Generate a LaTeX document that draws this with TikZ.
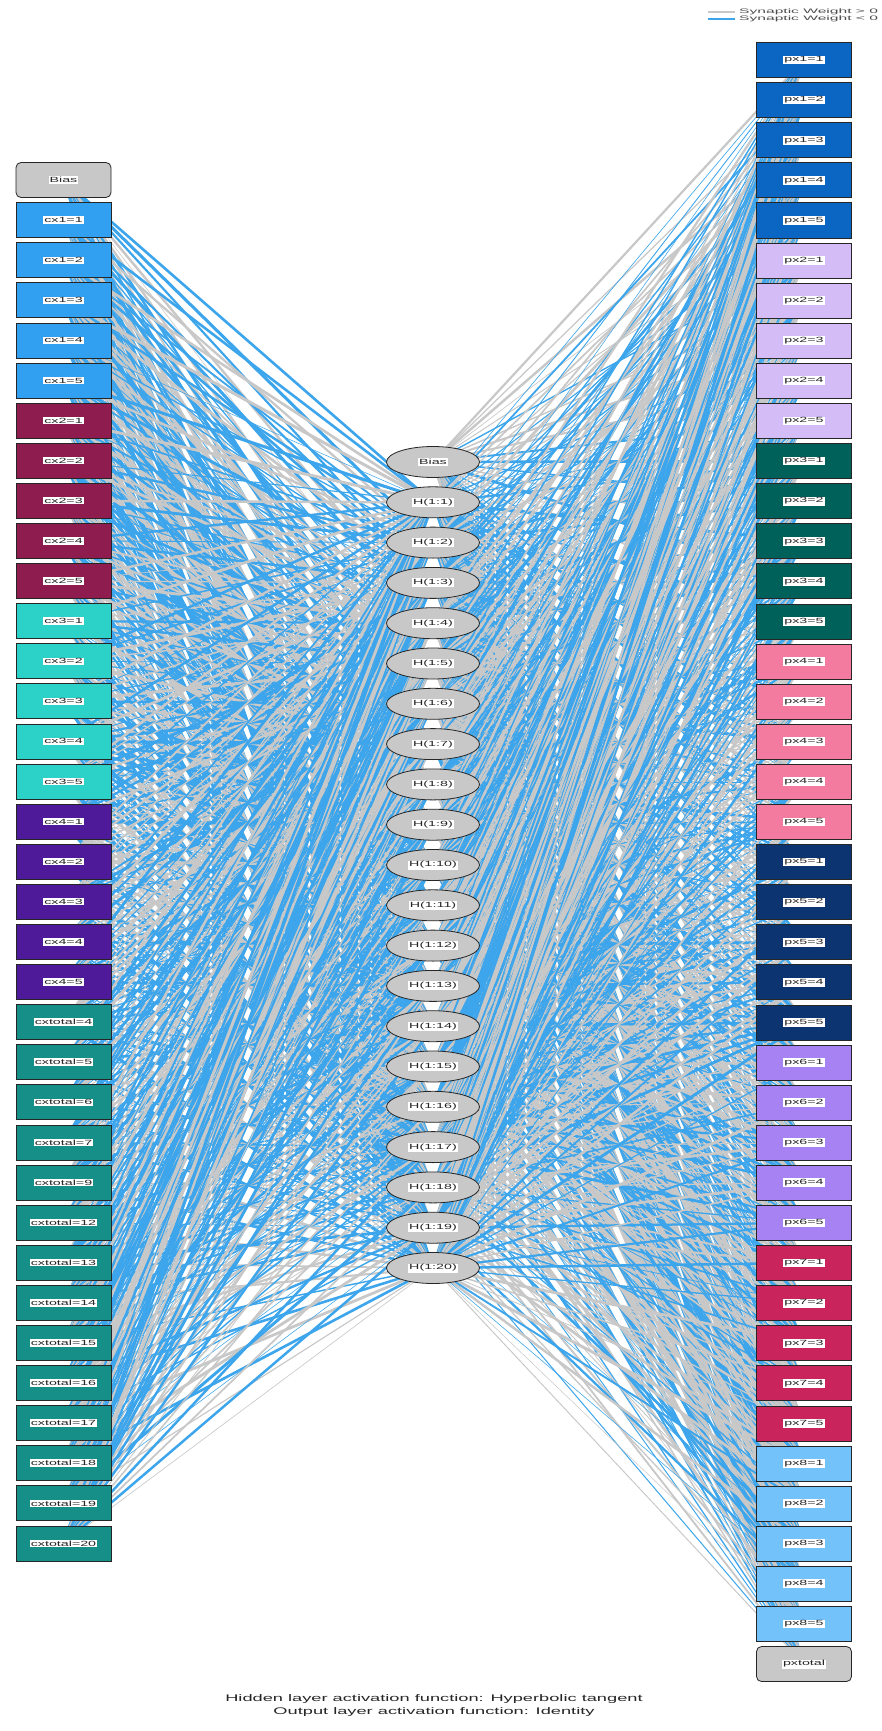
\documentclass[tikz,border=0pt]{standalone}
\usepackage{fontspec}
\usetikzlibrary{shapes.geometric,backgrounds}

\newfontfamily\widesans[FakeStretch=1.9]{Liberation Sans}
\newfontfamily\legsans[FakeStretch=2.4]{Liberation Sans}

\definecolor{cxone}{RGB}{50,160,240}
\definecolor{cxtwo}{RGB}{142,28,78}
\definecolor{cxthree}{RGB}{44,210,200}
\definecolor{cxfour}{RGB}{78,26,153}
\definecolor{cxtot}{RGB}{22,143,137}
\definecolor{pxone}{RGB}{10,102,194}
\definecolor{pxtwo}{RGB}{212,189,247}
\definecolor{pxthree}{RGB}{0,96,90}
\definecolor{pxfour}{RGB}{244,123,160}
\definecolor{pxfive}{RGB}{11,52,112}
\definecolor{pxsix}{RGB}{167,130,242}
\definecolor{pxseven}{RGB}{201,36,92}
\definecolor{pxeight}{RGB}{115,194,250}
\definecolor{biasgrey}{RGB}{200,200,200}
\definecolor{wblue}{RGB}{60,165,235}
\definecolor{wgrey}{RGB}{200,200,200}

\setlength{\fboxsep}{1pt}
\newcommand{\tagbox}[1]{\colorbox{white}{#1}}

\tikzset{
  unitbox/.style={draw=black!85,line width=0.8,minimum width=95,minimum height=35,inner sep=0,
    font=\widesans\fontsize{7.5}{8}\selectfont,text=black!85},
  biasbox/.style={unitbox,fill=biasgrey,rounded corners=5},
  hid/.style={ellipse,draw=black!85,line width=0.8,fill=biasgrey,minimum width=93,minimum height=31,inner sep=0,
    font=\widesans\fontsize{7.5}{8}\selectfont,text=black!85},
  wpos/.style={draw=wgrey},
  wneg/.style={draw=wblue}
}

\begin{document}
\begin{tikzpicture}[x=1pt,y=-1pt]

        % ------------------------------------------------ input layer
        \node[biasbox] (L0) at (63.5,180) {\tagbox{Bias}};
        \foreach \g/\c in {1/cxone,2/cxtwo,3/cxthree,4/cxfour}
          \foreach \k in {1,...,5}{
            \pgfmathtruncatemacro\i{5*(\g-1)+\k}
            \node[unitbox,fill=\c] (L\i) at (63.5,{180+40.1*\i}) {\tagbox{cx\g=\k}};
          }
        \foreach \v [count=\i from 21] in {4,5,6,7,9,12,13,14,15,16,17,18,19,20}
          \node[unitbox,fill=cxtot] (L\i) at (63.5,{180+40.1*\i}) {\tagbox{cxtotal=\v}};

        % ------------------------------------------------ hidden layer
        \node[hid] (H0) at (433,462) {\tagbox{Bias}};
        \foreach \k in {1,...,20}
          \node[hid] (H\k) at (433,{462+40.3*\k}) {\tagbox{H(1:\k)}};

        % ------------------------------------------------ output layer
        \foreach \g/\c in {1/pxone,2/pxtwo,3/pxthree,4/pxfour,5/pxfive,6/pxsix,7/pxseven,8/pxeight}
          \foreach \k in {1,...,5}{
            \pgfmathtruncatemacro\j{5*(\g-1)+\k-1}
            \node[unitbox,fill=\c] (R\j) at (804,{60+40.1*\j}) {\tagbox{px\g=\k}};
          }
        \node[biasbox] (R40) at (804,{60+40.1*40}) {\tagbox{pxtotal}};

        % ------------------------------------------------ weights, under the units
        \begin{pgfonlayer}{background}
        \fill[white] (0,0) rectangle (882,1731);
        \pgfmathsetseed{4711}
        \foreach \i in {0,...,34}
          \foreach \k in {1,...,20}{
            \pgfmathsetmacro\w{0.5+2.6*rnd}
            \pgfmathtruncatemacro\neg{rnd<0.6}
            \ifnum\neg=1 \def\wc{wneg}\else\def\wc{wpos}\fi
            \draw[\wc,line width=\w] (L\i.center) -- (H\k.center);
          }
        \foreach \k in {0,...,20}
          \foreach \j in {0,...,40}{
            \pgfmathsetmacro\w{0.5+2.4*rnd}
            \pgfmathtruncatemacro\neg{rnd<0.5}
            \ifnum\neg=1 \def\wc{wneg}\else\def\wc{wpos}\fi
            \draw[\wc,line width=\w] (H\k.center) -- (R\j.center);
          }
        \end{pgfonlayer}

        % ------------------------------------------------ legend
        \coordinate (posA) at (708,12);
        \coordinate (posB) at (735,12);
        \coordinate (negA) at (708,19);
        \coordinate (negB) at (735,19);
        \draw[wgrey,line width=1.2] (posA) -- (posB);
        \draw[wblue,line width=1.2] (negA) -- (negB);
        \node[anchor=west,inner sep=0,font=\legsans\fontsize{6.5}{7}\selectfont,text=black!70] (posT) at (739,11.5) {Synaptic Weight > 0};
        \node[anchor=west,inner sep=0,font=\legsans\fontsize{6.5}{7}\selectfont,text=black!70] (negT) at (739,19) {Synaptic Weight < 0};

        % ------------------------------------------------ footer
        \node[font=\widesans\fontsize{9.6}{13}\selectfont,text=black!85,align=center] (foot) at (434,1705)
          {Hidden layer activation function: Hyperbolic tangent\\Output layer activation function: Identity};

\end{tikzpicture}
\end{document}
